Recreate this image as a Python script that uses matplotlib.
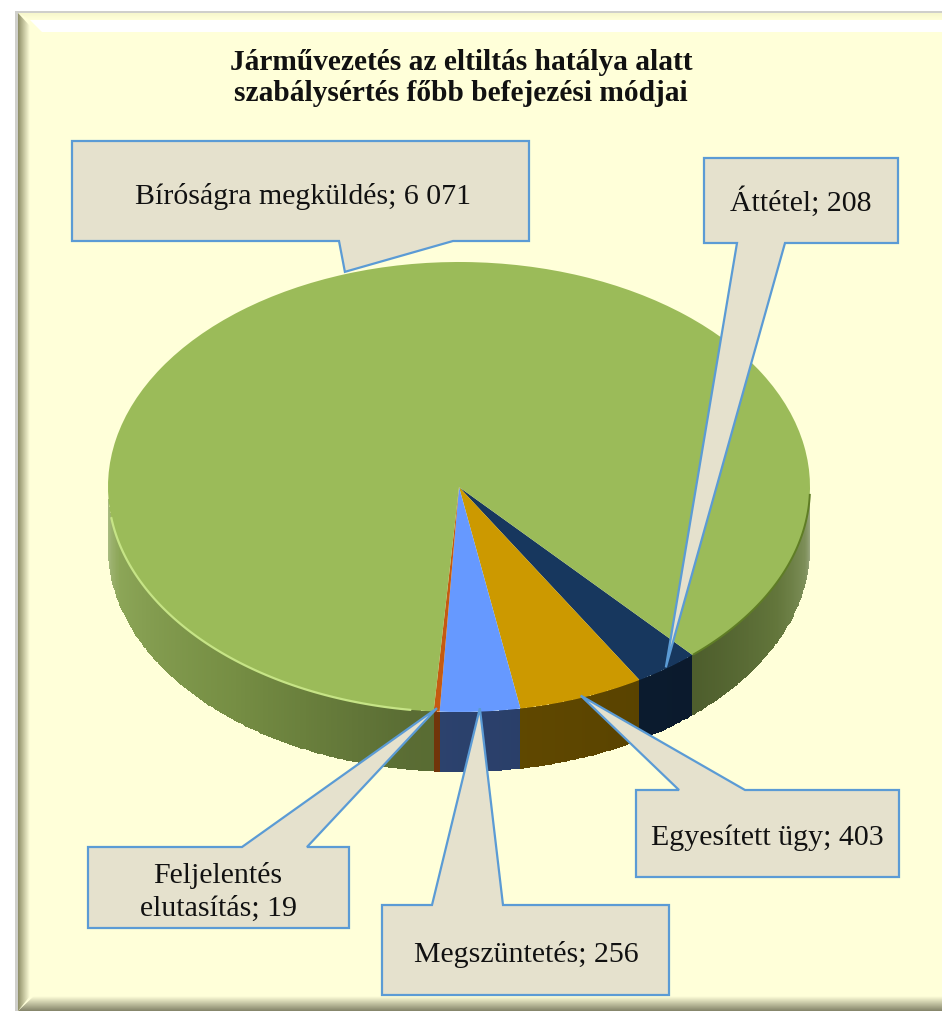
import matplotlib
matplotlib.use("Agg")
import matplotlib.pyplot as plt
import numpy as np
from matplotlib.patches import Polygon, Rectangle

W, H = 942, 1011

# slices in drawing order, clockwise from the right edge of the green part
labels = ["Áttétel", "Egyesített ügy", "Megszüntetés", "Feljelentés\nelutasítás", "Bíróságra megküldés"]
values = [208, 403, 256, 19, 6071]
colors = ["#17375e", "#cc9900", "#6699ff", "#c55a11", "#9bbb59"]
wall_dim = [0.95, 0.85, 0.75, 1.0, 1.0]

title = "Járművezetés az eltiltás hatálya alatt\nszabálysértés főbb befejezési módjai"

# callout boxes in pixels: x0, x1, y0, y1, tail base left, tail base right, tip radius
callouts = [
    (704, 898, 158, 243, 737, 785, 0.995),
    (636, 899, 790, 877, 679, 745, 0.99),
    (382, 669, 905, 995, 432, 503, 0.985),
    (88, 349, 847, 928, 242, 307, 0.985),
    (72, 529, 141, 241, 339, 453, 1.01),
]
text_pos = [(801, 202), (767, 838), (526, 954), (218, 892), (303, 197)]

# wall shading by angle, lower half of the pie
shade_theta = [180, 195, 230, 262, 312, 335, 350, 360]
shade_mult = [0.55, 0.80, 0.76, 0.58, 0.50, 0.60, 0.55, 0.35]
shade_gray = [0.45, 0.08, 0.0, 0.0, 0.0, 0.03, 0.20, 0.55]

plt.rcParams["font.family"] = ["Liberation Serif", "DejaVu Serif"]
fig = plt.figure(figsize=(W / 100, H / 100), dpi=100, facecolor="white")


def px_axes(zorder):
    a = fig.add_axes([0, 0, 1, 1], zorder=zorder)
    a.set_xlim(0, W)
    a.set_ylim(H, 0)
    a.axis("off")
    a.patch.set_alpha(0)
    return a


def bevel(a, poly, colors_from_to, extent, vertical):
    # gradient band clipped to a mitred polygon
    c0 = np.array(matplotlib.colors.to_rgb(colors_from_to[0]))
    c1 = np.array(matplotlib.colors.to_rgb(colors_from_to[1]))
    t = np.linspace(0, 1, 32)[:, None]
    img = c0 + (c1 - c0) * t
    img = img[:, None, :] if vertical else img[None, :, :]
    im = a.imshow(img, extent=extent, aspect="auto", origin="upper", interpolation="bilinear", zorder=2)
    clip = Polygon(poly, closed=True, transform=a.transData, fc="none", ec="none")
    a.add_patch(clip)
    im.set_clip_path(clip)


# panel
bg = px_axes(0)
bg.add_patch(Rectangle((15, 11), W - 15, H - 11, fc="#cfcfcb", ec="none"))
bg.add_patch(Rectangle((18, 13), W - 18, H - 13, fc="#ffffd9", ec="none"))
bevel(bg, [(18, 13), (W, 13), (W, 20), (30, 20)], ("#f7f7cc", "#ffffd9"), (18, W, 20, 13), True)
bevel(bg, [(30, 20), (W, 20), (W, 32), (42, 32)], ("#ffffff", "#ffffff"), (18, W, 32, 20), True)
bevel(bg, [(18, 13), (30, 26), (30, 996), (18, H)], ("#8f8f68", "#ffffd9"), (18, 30, H, 13), False)
bevel(bg, [(18, H), (34, 996), (W, 996), (W, H)], ("#ffffd9", "#85856a"), (18, W, H, 996), True)
bg.set_xlim(0, W)
bg.set_ylim(H, 0)

# pie, squashed by giving the axes the shape of the ellipse
cx, cy, rx, ry = 459, 487, 351, 225
depth = 60 / ry
ax = fig.add_axes([(cx - rx) / W, 1 - (cy + ry) / H, 2 * rx / W, 2 * ry / H], zorder=1)
wedges, _ = ax.pie(values, colors=colors, startangle=-48.3, counterclock=False, radius=1)
for w in wedges:
    w.set_zorder(3)
    w.set_linewidth(0)

# side wall of the disc from the slice angles
for w, dim in zip(wedges, wall_dim):
    base = np.array(w.get_facecolor()[:3])
    for lo, hi in [(-180, 0), (-540, -360)]:
        a0, a1 = max(w.theta1, lo), min(w.theta2, hi)
        if a1 <= a0:
            continue
        th = np.linspace(a0, a1, max(int(a1 - a0) * 2, 2) + 1)
        rad = np.radians(th)
        X = np.vstack([np.cos(rad), np.cos(rad)])
        Y = np.vstack([np.sin(rad), np.sin(rad) - depth])
        mid = (th[:-1] + th[1:]) / 2 % 360
        f = np.interp(mid, shade_theta, shade_mult)[:, None]
        g = np.interp(mid, shade_theta, shade_gray)[:, None]
        rgb = np.clip(base * f * dim + 0.78 * g, 0, 1)
        mesh = ax.pcolormesh(X, Y, rgb[None, :, :], shading="flat", edgecolors="none", zorder=2, clip_on=False)

# rim light on the green slice
th = np.radians(np.linspace(188, 262, 120))
ax.plot(np.cos(th), np.sin(th), color="#c6e486", lw=1.6, zorder=4, clip_on=False)
th = np.radians(np.linspace(312, 358, 80))
ax.plot(np.cos(th), np.sin(th), color="#5f7d25", lw=1.4, zorder=4, clip_on=False)

ax.set_aspect("auto")
ax.set_xlim(-1, 1)
ax.set_ylim(-1, 1)
ax.axis("off")

# callouts drawn over the pie, tip at the middle of each slice
top = px_axes(2)
fig.canvas.draw()
for w, lab, val, box, pos in zip(wedges, labels, values, callouts, text_pos):
    x0, x1, y0, y1, b0, b1, r = box
    mid = np.radians((w.theta1 + w.theta2) / 2)
    tip = ax.transData.transform((r * np.cos(mid), r * np.sin(mid)))
    tip = top.transData.inverted().transform(tip)
    if tip[1] < y0:
        pts = [(x0, y0), (b0, y0), tip, (b1, y0), (x1, y0), (x1, y1), (x0, y1)]
    else:
        pts = [(x0, y0), (x1, y0), (x1, y1), (b1, y1), tip, (b0, y1), (x0, y1)]
    top.add_patch(Polygon(pts, closed=True, fc="#e5e1cd", ec="#5b9bd5", lw=1.6, joinstyle="miter", clip_on=False))
    txt = f"{lab}; {val:,}".replace(",", " ")
    top.text(pos[0], pos[1], txt, ha="center", va="center", fontsize=21.5, color="#111111", linespacing=1.37)

top.text(461, 78, title, ha="center", va="center", fontsize=21.2, fontweight="bold", color="#111111", linespacing=1.17)

fig.savefig("out.png", dpi=100)
